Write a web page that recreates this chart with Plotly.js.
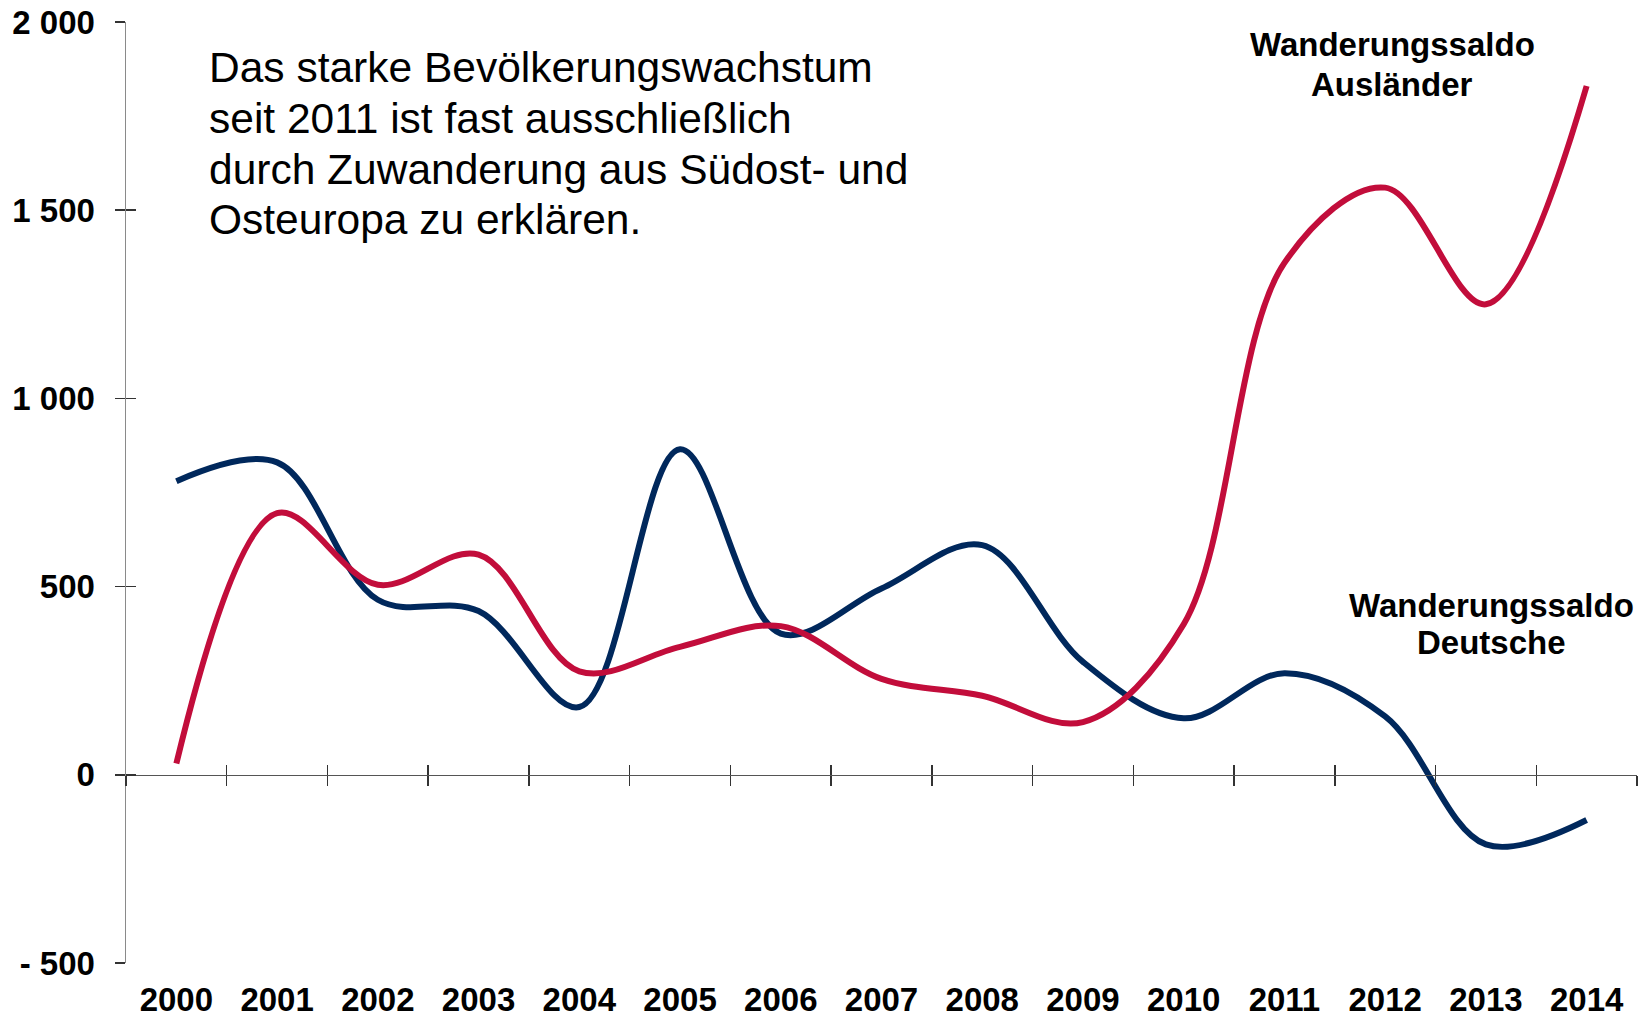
<!DOCTYPE html>
<html>
<head>
<meta charset="utf-8">
<script src="https://cdn.plot.ly/plotly-3.0.1.min.js"></script>
<style>
  html, body { margin: 0; padding: 0; background: #ffffff; }
  #chart { width: 1645px; height: 1018px; }
</style>
</head>
<body>
<div id="chart"></div>
<script>
// ---- data ----
const years = [2000, 2001, 2002, 2003, 2004, 2005, 2006, 2007, 2008, 2009, 2010, 2011, 2012, 2013, 2014];
const deutsche = [780, 830, 465, 435, 180, 865, 375, 495, 610, 300, 150, 270, 155, -185, -120];
const auslaender = [30, 695, 505, 585, 275, 340, 395, 255, 210, 140, 400, 1360, 1560, 1250, 1830];
const yTickVals = [-500, 0, 500, 1000, 1500, 2000];
const yTickText = ['- 500', '0', '500', '1 000', '1 500', '2 000'];
const seriesNames = ['Wanderungssaldo Deutsche', 'Wanderungssaldo Ausländer'];
const infoLines = [
  'Das starke Bevölkerungswachstum',
  'seit 2011 ist fast ausschließlich',
  'durch Zuwanderung aus Südost- und',
  'Osteuropa zu erklären.'
];

// ---- styling ----
const FONT = 'Liberation Sans, Arial, Helvetica, sans-serif';
const BLUE = '#00285C';
const RED = '#C20D3B';
const yMin = -500, yMax = 2000;
const xRange = [years[0] - 0.5, years[years.length - 1] + 0.5];
const boundaries = [years[0] - 0.5].concat(years.map(y => y + 0.5));
const zeroPos = (0 - yMin) / (yMax - yMin);

const traces = [
  {
    x: years, y: deutsche, name: seriesNames[0], type: 'scatter', mode: 'lines',
    line: { color: BLUE, width: 6, shape: 'spline', smoothing: 1 },
    hoverinfo: 'x+y', showlegend: false
  },
  {
    x: years, y: auslaender, name: seriesNames[1], type: 'scatter', mode: 'lines',
    line: { color: RED, width: 6, shape: 'spline', smoothing: 1 },
    hoverinfo: 'x+y', showlegend: false
  }
];
// invisible carrier traces so that the overlay axes (crossing tick marks) are drawn
[['x2', 'y'], ['x3', 'y'], ['x', 'y2']].forEach(([xa, ya]) => {
  traces.push({
    x: years, y: deutsche, xaxis: xa, yaxis: ya, type: 'scatter', mode: 'lines',
    line: { color: 'rgba(0,0,0,0)', width: 0 }, hoverinfo: 'skip', showlegend: false
  });
});

const annotations = [];
const infoY = [0.952, 0.8975, 0.8437, 0.7896];
infoLines.forEach((t, i) => {
  annotations.push({
    xref: 'paper', yref: 'paper', x: 0.0535, y: infoY[i],
    xanchor: 'left', yanchor: 'middle', showarrow: false, text: t,
    font: { family: FONT, size: 42.5, color: '#000' }
  });
});
const labelDefs = [
  { text: 'Wanderungssaldo', x: 0.838, y: 0.9756 },
  { text: 'Ausländer', x: 0.838, y: 0.934 },
  { text: 'Wanderungssaldo', x: 0.904, y: 0.3804 },
  { text: 'Deutsche', x: 0.904, y: 0.3411 }
];
labelDefs.forEach(d => {
  annotations.push({
    xref: 'paper', yref: 'paper', x: d.x, y: d.y,
    xanchor: 'center', yanchor: 'middle', showarrow: false, text: d.text,
    font: { family: FONT, size: 33, color: '#000', weight: 'bold' }
  });
});

const layout = {
  width: 1645, height: 1018,
  margin: { l: 126, r: 8, t: 22, b: 55, pad: 0 },
  paper_bgcolor: '#ffffff', plot_bgcolor: '#ffffff',
  showlegend: false,
  font: { family: FONT, color: '#000' },
  xaxis: {
    range: xRange, tickmode: 'array', tickvals: years, ticktext: years.map(String),
    showline: false, ticks: '', showgrid: false, zeroline: false,
    tickfont: { family: FONT, size: 33, color: '#000', weight: 'bold' },
    ticklabelstandoff: 14, fixedrange: true
  },
  xaxis2: {
    overlaying: 'x', anchor: 'free', position: zeroPos, range: xRange,
    tickmode: 'array', tickvals: boundaries, showticklabels: false,
    showline: true, linecolor: '#555555', linewidth: 1.5,
    ticks: 'outside', ticklen: 10, tickwidth: 1.5, tickcolor: '#333333',
    showgrid: false, zeroline: false
  },
  xaxis3: {
    overlaying: 'x', anchor: 'free', position: zeroPos, range: xRange,
    tickmode: 'array', tickvals: boundaries, showticklabels: false,
    showline: false,
    ticks: 'inside', ticklen: 10, tickwidth: 1.5, tickcolor: '#333333',
    showgrid: false, zeroline: false
  },
  yaxis: {
    range: [yMin, yMax], tickmode: 'array', tickvals: yTickVals, ticktext: yTickText,
    showline: true, linecolor: '#8a8a8a', linewidth: 1.5,
    ticks: 'outside', ticklen: 10, tickwidth: 1.5, tickcolor: '#333333',
    showgrid: false, zeroline: false,
    tickfont: { family: FONT, size: 33, color: '#000', weight: 'bold' },
    ticklabelstandoff: 13, fixedrange: true
  },
  yaxis2: {
    overlaying: 'y', anchor: 'x', side: 'left', range: [yMin, yMax],
    tickmode: 'array', tickvals: yTickVals, showticklabels: false,
    showline: false, ticks: 'inside', ticklen: 10, tickwidth: 1.5, tickcolor: '#333333',
    showgrid: false, zeroline: false
  },
  annotations: annotations
};

Plotly.newPlot('chart', traces, layout, { displayModeBar: false, staticPlot: true });
</script>
</body>
</html>
